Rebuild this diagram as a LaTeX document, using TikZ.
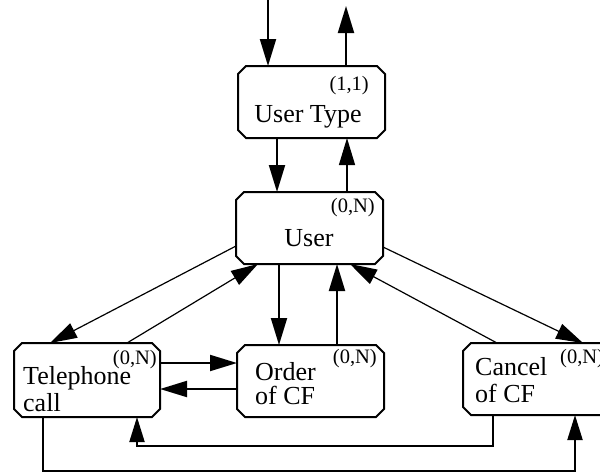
\documentclass[tikz,border=0pt]{standalone}
\usepackage{fontspec}
\setmainfont{Liberation Serif}
\usetikzlibrary{arrows.meta,calc}
\begin{document}
\begin{tikzpicture}[x=1pt,y=-1pt,
  boxn/.style={rectangle,draw=none,inner sep=0pt,outer sep=0pt,minimum width=147pt,minimum height=72pt},
  boxline/.style={line width=2pt,line join=miter},
  arr/.style={line width=2pt,-{Triangle[length=27pt,width=16pt]}},
  arrthin/.style={line width=1.2pt,-{Triangle[length=27pt,width=16pt]}},
  route/.style={line width=2pt,-{Triangle[length=25pt,width=15pt]}},
  big/.style={inner sep=0pt,font=\fontsize{26}{28}\selectfont},
  small/.style={inner sep=0pt,font=\fontsize{20.5}{22}\selectfont}]
\useasboundingbox (0,0) rectangle (600,472);
\clip (0,0) rectangle (600,472);

% boxes
\node[boxn] (UT) at (311.5,102) {};
\node[boxn] (U)  at (309.5,228) {};
\node[boxn,minimum width=146pt,minimum height=74pt] (TC) at (87,380) {};
\node[boxn] (OC) at (310.5,381) {};
\node[boxn,minimum width=148pt] (CC) at (537,379) {};
\foreach \n in {UT,U,TC,OC,CC}
  \draw[boxline] ($(\n.north west)+(8,0)$) -- ($(\n.north east)+(-8,0)$) -- ($(\n.north east)+(0,8)$)
     -- ($(\n.south east)+(0,-8)$) -- ($(\n.south east)+(-8,0)$) -- ($(\n.south west)+(8,0)$)
     -- ($(\n.south west)+(0,-8)$) -- ($(\n.north west)+(0,8)$) -- cycle;

% texts
\node[small,anchor=base east] (utc) at (369,90) {(1,1)};
\node[big,anchor=base] (utt) at (308,122) {User Type};
\node[small,anchor=base east] (uc) at (375,212) {(0,N)};
\node[big,anchor=base] (ut) at (309,246) {User};
\node[small,anchor=base east] (tcc) at (157,364) {(0,N)};
\node[big,anchor=base west] (tct1) at (23,384) {Telephone};
\node[big,anchor=base west] (tct2) at (23,411) {call};
\node[small,anchor=base east] (occ) at (377,363) {(0,N)};
\node[big,anchor=base west] (oct1) at (255,380) {Order};
\node[big,anchor=base west] (oct2) at (255,404) {of CF};
\node[small,anchor=base west] (ccc) at (560,363) {(0,N)};
\node[big,anchor=base west] (cct1) at (475,375) {Cancel};
\node[big,anchor=base west] (cct2) at (475,402) {of CF};

% connectors
\coordinate (inTop) at (268,0);
\coordinate (outTop) at (346,6);
\draw[arr] (inTop) -- (inTop |- UT.north);
\draw[arr] (outTop |- UT.north) -- (outTop);

\coordinate (c3) at (277,0);
\coordinate (c4) at (347,0);
\draw[arr] (c3 |- UT.south) -- (c3 |- U.north);
\draw[arrthin] (c4 |- U.north) -- (c4 |- UT.south);

\draw[arrthin] ($(U.west)+(0,18)$) -- ($(TC.north west)+(36,0)$);
\draw[arrthin] ($(TC.north west)+(113,0)$) -- ($(U.south west)+(22,0)$);

\coordinate (c7) at (279,0);
\coordinate (c8) at (337,0);
\draw[arr] (c7 |- U.south) -- (c7 |- OC.north);
\draw[arr] (c8 |- OC.north) -- (c8 |- U.south);

\draw[arrthin] ($(CC.north west)+(34,0)$) -- ($(U.south east)+(-33,0)$);
\draw[arrthin] ($(U.east)+(0,19)$) -- ($(CC.north west)+(120,0)$);

\coordinate (c11) at (0,363);
\coordinate (c12) at (0,389);
\draw[arr] (c11 -| TC.east) -- (c11 -| OC.west);
\draw[arr] (c12 -| OC.west) -- (c12 -| TC.east);

\coordinate (r1) at (493,446);
\coordinate (r1b) at (137,446);
\draw[route] (r1 |- CC.south) -- (r1) -- (r1b) -- (r1b |- TC.south);
\coordinate (r2) at (43,471);
\coordinate (r2b) at (575,471);
\draw[route] (r2 |- TC.south) -- (r2) -- (r2b) -- (r2b |- CC.south);
\end{tikzpicture}
\end{document}
